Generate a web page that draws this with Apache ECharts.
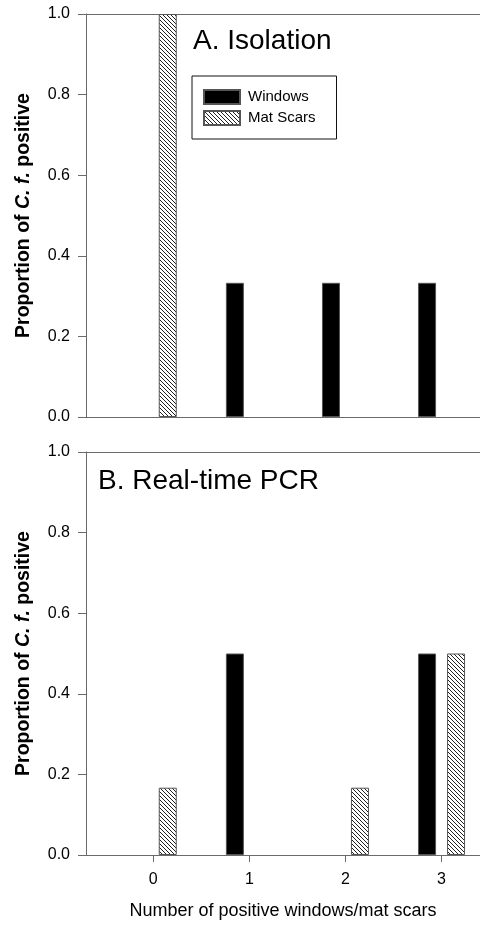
<!DOCTYPE html>
<html>
<head>
<meta charset="utf-8">
<script src="https://cdn.jsdelivr.net/npm/echarts@6/dist/echarts.min.js"></script>
<style>
html,body{margin:0;padding:0;background:#fff;}
#chart{width:480px;height:926px;}
</style>
</head>
<body>
<div id="chart"></div>
<script>
// ---- data ----
const categories = [0, 1, 2, 3];
const windowsIsolation = [0, 0.333, 0.333, 0.333];
const matScarsIsolation = [1.0, 0, 0, 0];
const windowsPCR = [0, 0.5, 0, 0.5];
const matScarsPCR = [0.167, 0, 0.167, 0.5];
const yTicks = [0, 0.2, 0.4, 0.6, 0.8, 1.0];
const panelTitles = ['A. Isolation', 'B. Real-time PCR'];
const seriesNames = ['Windows', 'Mat Scars'];

// ---- hatch pattern ----
function makeHatch() {
  const c = document.createElement('canvas');
  c.width = 4; c.height = 4;
  const ctx = c.getContext('2d');
  ctx.fillStyle = '#fff';
  ctx.fillRect(0, 0, 4, 4);
  ctx.fillStyle = '#222';
  for (let i = 0; i < 4; i++) ctx.fillRect(i, i, 1, 1);
  return c;
}
const hatch = { image: makeHatch(), repeat: 'repeat' };

function pairs(vals) {
  return categories.map((c, i) => [c, vals[i] === 0 ? '-' : vals[i]]);
}

const FONT = 'Liberation Sans, Arial, sans-serif';
const axisColor = '#6a6a6a';

function yAxisFor(gridIndex) {
  return {
    type: 'value', gridIndex, min: 0, max: 1, interval: 0.2,
    axisLine: { show: true, onZero: false, lineStyle: { color: axisColor, width: 1 } },
    axisTick: { show: true, length: 8, customValues: yTicks, lineStyle: { color: axisColor } },
    axisLabel: { margin: 16, fontSize: 16, color: '#000', fontFamily: FONT, customValues: yTicks,
      formatter: v => v.toFixed(1) },
    splitLine: { show: false },
    name: '{b|Proportion of }{i|C. f.}{b| positive}',
    nameLocation: 'middle', nameRotate: 90, nameGap: 52,
    nameTextStyle: {
      rich: {
        b: { fontSize: 19.5, fontWeight: 'bold', fontFamily: FONT, color: '#000' },
        i: { fontSize: 19.5, fontWeight: 'bold', fontStyle: 'italic', fontFamily: FONT, color: '#000' }
      }
    }
  };
}

function xBottom(gridIndex, showLabels) {
  const ax = {
    type: 'value', gridIndex, min: -0.7, max: 3.4, position: 'bottom',
    axisLine: { show: true, onZero: false, lineStyle: { color: axisColor, width: 1 } },
    axisTick: { show: showLabels, length: 7, customValues: categories, lineStyle: { color: axisColor } },
    axisLabel: { show: showLabels, customValues: categories, margin: 17, fontSize: 16, color: '#000', fontFamily: FONT },
    splitLine: { show: false }
  };
  if (showLabels) {
    ax.name = 'Number of positive windows/mat scars';
    ax.nameLocation = 'middle';
    ax.nameGap = 47;
    ax.nameTextStyle = { fontSize: 18, color: '#000', fontFamily: FONT };
  }
  return ax;
}
function xTop(gridIndex) {
  return {
    type: 'value', gridIndex, min: -0.7, max: 3.4, position: 'top',
    axisLine: { show: true, onZero: false, lineStyle: { color: axisColor, width: 1 } },
    axisTick: { show: false }, axisLabel: { show: false }, splitLine: { show: false }
  };
}

const barCommon = { type: 'bar', barWidth: 18, barGap: '61%' };
const winStyle = { color: '#000', borderColor: '#555', borderWidth: 1 };
const matStyle = { color: hatch, borderColor: '#555', borderWidth: 1 };

const option = {
  backgroundColor: '#fff',
  animation: false,
  textStyle: { fontFamily: FONT },
  grid: [
    { left: 86, right: 0, top: 14, height: 403 },
    { left: 86, right: 0, top: 452, height: 403 }
  ],
  xAxis: [xBottom(0, false), xTop(0), xBottom(1, true), xTop(1)],
  yAxis: [yAxisFor(0), yAxisFor(1)],
  legend: {
    data: seriesNames,
    orient: 'vertical', left: 192, top: 76,
    padding: [13, 21, 13, 11],
    borderColor: '#111', borderWidth: 1,
    itemWidth: 36, itemHeight: 14, itemGap: 5,
    icon: 'rect', selectedMode: false,
    textStyle: { fontSize: 15, color: '#000', fontFamily: FONT, lineHeight: 14, padding: [0, 0, 0, 3] }
  },
  graphic: [
    { type: 'text', left: 193, top: 27, style: { text: panelTitles[0], font: '28px ' + FONT, fill: '#000' } },
    { type: 'text', left: 98, top: 467, style: { text: panelTitles[1], font: '28px ' + FONT, fill: '#000' } }
  ],
  series: [
    Object.assign({}, barCommon, { name: seriesNames[0], xAxisIndex: 0, yAxisIndex: 0, data: pairs(windowsIsolation), itemStyle: winStyle }),
    Object.assign({}, barCommon, { name: seriesNames[1], xAxisIndex: 0, yAxisIndex: 0, data: pairs(matScarsIsolation), itemStyle: matStyle }),
    Object.assign({}, barCommon, { name: seriesNames[0], xAxisIndex: 2, yAxisIndex: 1, data: pairs(windowsPCR), itemStyle: winStyle }),
    Object.assign({}, barCommon, { name: seriesNames[1], xAxisIndex: 2, yAxisIndex: 1, data: pairs(matScarsPCR), itemStyle: matStyle })
  ]
};

const chart = echarts.init(document.getElementById('chart'), null, { renderer: 'canvas' });
chart.setOption(option);
</script>
</body>
</html>
